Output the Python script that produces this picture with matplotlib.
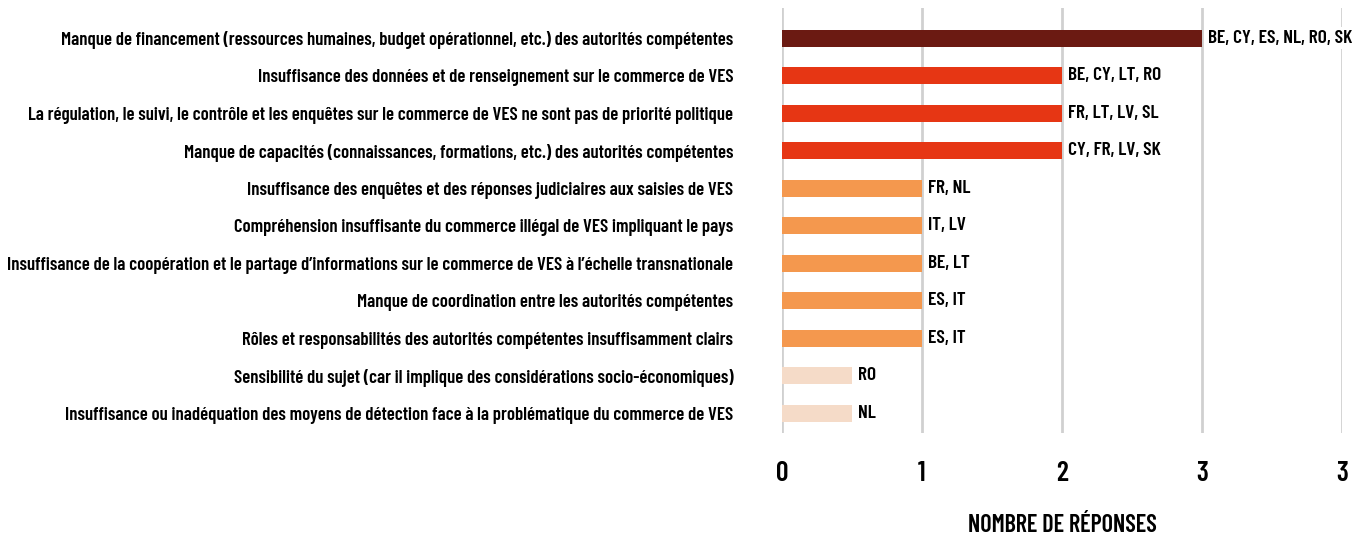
import matplotlib
matplotlib.use('Agg')
import matplotlib.pyplot as plt

# 字体：窄体粗体
plt.rcParams['font.family'] = ['Barlow Condensed', 'DejaVu Sans']
plt.rcParams['font.weight'] = 600
plt.rcParams['axes.labelweight'] = 600

# 数据
categories = [
    "Manque de financement (ressources humaines, budget opérationnel, etc.) des autorités compétentes",
    "Insuffisance des données et de renseignement sur le commerce de VES",
    "La régulation, le suivi, le contrôle et les enquêtes sur le commerce de VES ne sont pas de priorité politique",
    "Manque de capacités (connaissances, formations, etc.) des autorités compétentes",
    "Insuffisance des enquêtes et des réponses judiciaires aux saisies de VES",
    "Compréhension insuffisante du commerce illégal de VES impliquant le pays",
    "Insuffisance de la coopération et le partage d’informations sur le commerce de VES à l’échelle transnationale",
    "Manque de coordination entre les autorités compétentes",
    "Rôles et responsabilités des autorités compétentes insuffisamment clairs",
    "Sensibilité du sujet (car il implique des considérations socio-économiques)",
    "Insuffisance ou inadéquation des moyens de détection face à la problématique du commerce de VES",
]
values = [6, 4, 4, 4, 2, 2, 2, 2, 2, 1, 1]
countries = [
    "BE, CY, ES, NL, RO, SK",
    "BE, CY, LT, RO",
    "FR, LT, LV, SL",
    "CY, FR, LV, SK",
    "FR, NL",
    "IT, LV",
    "BE, LT",
    "ES, IT",
    "ES, IT",
    "RO",
    "NL",
]
tick_values = [0, 2, 4, 6, 8]
tick_labels = ["0", "1", "2", "3", "3"]


def bar_color(v):
    if v >= 6:
        return '#6B1A12'
    if v >= 4:
        return '#E63614'
    if v >= 2:
        return '#F4984E'
    return '#F5DBC8'


fig = plt.figure(figsize=(13.53, 5.39), dpi=100, facecolor='white')
ax = fig.add_axes([0.578, 0.1967, 0.4139, 0.7883])

y = list(range(len(categories)))
ax.barh(y, values, height=0.45, color=[bar_color(v) for v in values], zorder=3)

# 柱末尾的国家标签
for yi, v, c in zip(y, values, countries):
    ax.text(v + 0.08, yi, c, va='center', ha='left', fontsize=14,
            color='black', zorder=4,
            bbox=dict(facecolor='white', edgecolor='none', pad=1.5))

ax.set_xlim(0, 8)
ax.set_ylim(10.53, -0.8)
ax.set_yticks(y)
ax.set_yticklabels(categories, fontsize=13.5)
ax.set_xticks(tick_values)
ax.set_xticklabels(tick_labels, fontsize=20)
ax.tick_params(axis='y', length=0, pad=35)
ax.tick_params(axis='x', length=0, pad=20)
ax.grid(axis='x', color='#D0D0D0', linewidth=2, zorder=0)
for s in ax.spines.values():
    s.set_visible(False)

ax.set_xlabel('NOMBRE DE RÉPONSES', fontsize=17.5, labelpad=20)

fig.savefig('out.png', dpi=100, facecolor='white')
